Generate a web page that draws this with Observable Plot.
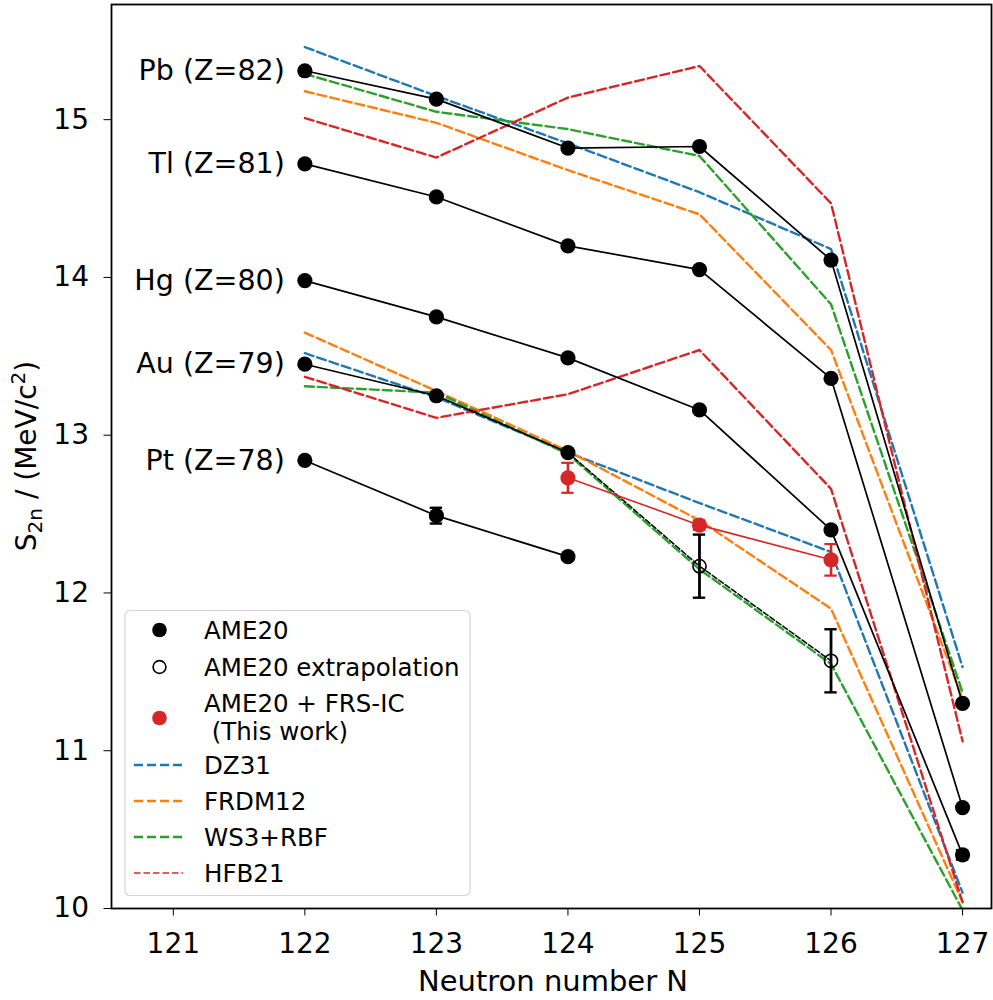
<!DOCTYPE html>
<html>
<head>
<meta charset="utf-8">
<script src="https://cdn.jsdelivr.net/npm/d3@7"></script>
<script src="https://cdn.jsdelivr.net/npm/@observablehq/plot@0.6"></script>
<style>
  body { margin: 0; background: #fff; }
  #chart svg { display: block; }
</style>
</head>
<body>
<div id="chart"></div>
<script>
// ---------------- data ----------------
const neutrons = [122, 123, 124, 125, 126, 127];
const xTicks = [121, 122, 123, 124, 125, 126, 127];
const yTicks = [10, 11, 12, 13, 14, 15];

const chains = ["Pb", "Tl", "Hg", "Au", "Pt"];
const chainLabels = ["Pb (Z=82)", "Tl (Z=81)", "Hg (Z=80)", "Au (Z=79)", "Pt (Z=78)"];

// AME20 measured S2n (MeV)
const pbAME = [15.31, 15.13, 14.82, 14.83, 14.11, 11.30];
const tlAME = [14.72, 14.51, 14.20, 14.05, 13.36, 10.64];
const hgAME = [13.98, 13.75, 13.49, 13.16, 12.40, 10.34];
const auAME = [13.45, 13.25, 12.89];
const ptAME = [12.84, 12.49, 12.23];
const pbErr = [0, 0, 0, 0, 0, 0];
const tlErr = [0, 0, 0, 0, 0, 0];
const hgErr = [0, 0, 0, 0, 0, 0.03];
const auErr = [0, 0, 0];
const ptErr = [0, 0.05, 0.015];

// AME20 extrapolation (Au, N=125,126)
const extN = [125, 126];
const auExt = [12.17, 11.57];
const auExtErr = [0.2, 0.2];

// AME20 + FRS-IC (This work), Au N=124..126
const thisN = [124, 125, 126];
const auThis = [12.73, 12.43, 12.21];
const auThisErr = [0.095, 0.03, 0.1];

// Model predictions, N = 122..127
const models = ["DZ31", "FRDM12", "WS3+RBF", "HFB21"];
const modelColors = ["#1f77b4", "#ff7f0e", "#2ca02c", "#d62728"];
const dz31Pb   = [15.46, 15.15, 14.85, 14.54, 14.18, 11.53];
const frdm12Pb = [15.18, 14.98, 14.68, 14.40, 13.54, 11.33];
const ws3Pb    = [15.29, 15.05, 14.94, 14.77, 13.83, 11.37];
const hfb21Pb  = [15.01, 14.76, 15.14, 15.34, 14.47, 11.06];
const dz31Au   = [13.52, 13.24, 12.89, 12.57, 12.26, 10.10];
const frdm12Au = [13.65, 13.28, 12.90, 12.46, 11.90, 10.04];
const ws3Au    = [13.31, 13.27, 12.88, 12.15, 11.55, 9.99];
const hfb21Au  = [13.37, 13.11, 13.26, 13.54, 12.66, 10.04];

const legendLabels = ["AME20", "AME20 extrapolation", "AME20 + FRS-IC", " (This work)", "DZ31", "FRDM12", "WS3+RBF", "HFB21"];

// ---------------- tables ----------------
const ameSeries = [pbAME, tlAME, hgAME, auAME, ptAME];
const ameErrs = [pbErr, tlErr, hgErr, auErr, ptErr];
const ame = [];
chains.forEach((c, i) => ameSeries[i].forEach((s, j) => ame.push({chain: c, N: neutrons[j], S: s, err: ameErrs[i][j]})));

const ext = extN.map((n, i) => ({N: n, S: auExt[i], err: auExtErr[i]}));
const extLine = [{N: 124, S: auAME[2]}, ...ext];
const thisWork = thisN.map((n, i) => ({N: n, S: auThis[i], err: auThisErr[i]}));

const modelSeries = {
  "DZ31": {Pb: dz31Pb, Au: dz31Au},
  "FRDM12": {Pb: frdm12Pb, Au: frdm12Au},
  "WS3+RBF": {Pb: ws3Pb, Au: ws3Au},
  "HFB21": {Pb: hfb21Pb, Au: hfb21Au}
};
const modelRows = [];
models.forEach(m => ["Pb", "Au"].forEach(c => modelSeries[m][c].forEach((s, j) =>
  modelRows.push({model: m, chain: c, key: m + c, N: neutrons[j], S: s}))));

const labelRows = chains.map((c, i) => ({text: chainLabels[i], N: neutrons[0], S: ameSeries[i][0]}));

const ameErrRows = ame.filter(d => d.err > 0);
const cap = 0.047;
const colorOf = Object.fromEntries(models.map((m, i) => [m, modelColors[i]]));
const red = "#d62728";

// ---------------- plot ----------------
const chart = Plot.plot({
  width: 993,
  height: 1000,
  marginLeft: 111,
  marginRight: 2,
  marginTop: 4,
  marginBottom: 92,
  style: {fontFamily: "DejaVu Sans", fontSize: "28px", color: "black", background: "white"},
  x: {domain: [120.53, 127.22]},
  y: {domain: [10, 15.73]},
  marks: [
    Plot.line(modelRows, {x: "N", y: "S", z: "key", stroke: d => colorOf[d.model], strokeWidth: 2.4, strokeDasharray: "9,4", clip: true}),
    Plot.line(ame, {x: "N", y: "S", z: "chain", stroke: "black", strokeWidth: 1.7}),
    Plot.line(extLine, {x: "N", y: "S", stroke: "black", strokeWidth: 1.5, strokeDasharray: "5.5,2.4"}),
    Plot.line(thisWork, {x: "N", y: "S", stroke: red, strokeWidth: 1.6}),
    // error bars
    Plot.ruleX(ext, {x: "N", y1: d => d.S - d.err, y2: d => d.S + d.err, stroke: "black", strokeWidth: 2.8}),
    Plot.ruleY(ext, {y: d => d.S - d.err, x1: d => d.N - cap, x2: d => d.N + cap, stroke: "black", strokeWidth: 2.4}),
    Plot.ruleY(ext, {y: d => d.S + d.err, x1: d => d.N - cap, x2: d => d.N + cap, stroke: "black", strokeWidth: 2.4}),
    Plot.ruleX(ameErrRows, {x: "N", y1: d => d.S - d.err, y2: d => d.S + d.err, stroke: "black", strokeWidth: 2.8}),
    Plot.ruleY(ameErrRows, {y: d => d.S - d.err, x1: d => d.N - cap, x2: d => d.N + cap, stroke: "black", strokeWidth: 2.4}),
    Plot.ruleY(ameErrRows, {y: d => d.S + d.err, x1: d => d.N - cap, x2: d => d.N + cap, stroke: "black", strokeWidth: 2.4}),
    Plot.ruleX(thisWork, {x: "N", y1: d => d.S - d.err, y2: d => d.S + d.err, stroke: red, strokeWidth: 2.6}),
    Plot.ruleY(thisWork, {y: d => d.S - d.err, x1: d => d.N - cap, x2: d => d.N + cap, stroke: red, strokeWidth: 2.2}),
    Plot.ruleY(thisWork, {y: d => d.S + d.err, x1: d => d.N - cap, x2: d => d.N + cap, stroke: red, strokeWidth: 2.2}),
    // points
    Plot.dot(ame, {x: "N", y: "S", r: 7.6, fill: "black"}),
    Plot.dot(ext, {x: "N", y: "S", r: 6.6, fill: "none", stroke: "black", strokeWidth: 1.6}),
    Plot.dot(thisWork, {x: "N", y: "S", r: 7.6, fill: red}),
    // chain labels
    Plot.text(labelRows, {x: "N", y: "S", text: "text", textAnchor: "end", dx: -20, fontSize: 28.5, fill: "black"}),
    // axes and frame
    Plot.axisX({ticks: xTicks, tickSize: 7.5, tickPadding: 17, label: null, fontSize: 28, tickFormat: d => String(d)}),
    Plot.axisY({ticks: yTicks, tickSize: 7.5, tickPadding: 15, label: null, fontSize: 28, tickFormat: d => String(d)}),
    Plot.frame({stroke: "black", strokeWidth: 1.8})
  ]
});
document.getElementById("chart").appendChild(chart);

// ---------------- axis titles ----------------
const svg = d3.select(chart);
svg.append("text")
  .attr("x", 553).attr("y", 991)
  .attr("text-anchor", "middle")
  .attr("font-family", "DejaVu Sans").attr("font-size", 29).attr("fill", "black")
  .text("Neutron number N");

const yl = svg.append("text")
  .attr("transform", "translate(36,456) rotate(-90)")
  .attr("text-anchor", "middle")
  .attr("font-family", "DejaVu Sans").attr("font-size", 28).attr("fill", "black");
yl.append("tspan").text("S");
yl.append("tspan").attr("font-size", 20).attr("dy", 6).text("2n");
yl.append("tspan").attr("dy", -6).text(" / (MeV/c");
yl.append("tspan").attr("font-size", 20).attr("dy", -11).text("2");
yl.append("tspan").attr("dy", 11).text(")");

// ---------------- legend ----------------
const lg = svg.append("g").attr("font-family", "DejaVu Sans").attr("font-size", 24.5)
  .attr("fill", "black").attr("text-anchor", "start");
lg.append("rect").attr("x", 125).attr("y", 610.5).attr("width", 345).attr("height", 285)
  .attr("rx", 5).attr("fill", "white").attr("fill-opacity", 0.85)
  .attr("stroke", "#d4d4d4").attr("stroke-width", 1.2);
const mx = 159.5, tx = 204;
const rowY = [630, 667, 703, 731, 765, 801, 837, 873];
lg.append("circle").attr("cx", mx).attr("cy", rowY[0]).attr("r", 7.3).attr("fill", "black");
lg.append("circle").attr("cx", mx).attr("cy", rowY[1]).attr("r", 6.4).attr("fill", "none").attr("stroke", "black").attr("stroke-width", 1.6);
lg.append("circle").attr("cx", mx).attr("cy", 718).attr("r", 7.3).attr("fill", red);
models.forEach((m, i) => {
  lg.append("line").attr("x1", 134).attr("x2", 183).attr("y1", rowY[4 + i]).attr("y2", rowY[4 + i])
    .attr("stroke", modelColors[i]).attr("stroke-width", i === 3 ? 1.6 : 2.4).attr("stroke-dasharray", i === 3 ? "6.5,3" : "9,4");
});
legendLabels.forEach((t, i) => {
  lg.append("text").attr("x", tx).attr("y", rowY[i]).attr("dy", "0.35em")
    .attr("text-anchor", "start").style("white-space", "pre").text(t);
});
</script>
</body>
</html>
